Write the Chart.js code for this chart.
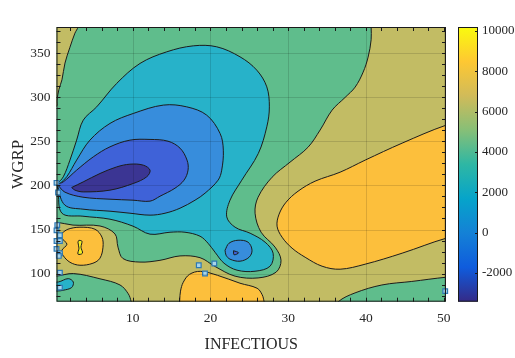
<!DOCTYPE html>
<html>
<head>
<meta charset="utf-8">
<script src="https://cdn.jsdelivr.net/npm/chart.js"></script>
<style>
  html, body { margin: 0; padding: 0; background: #fff; }
  #wrap { width: 515px; height: 358px; }
</style>
</head>
<body>
<div id="wrap"><canvas id="contour"></canvas></div>
<script>
// axis ranges and tick labels
const X_MIN = 0.2, X_MAX = 50.3, Y_MIN = 68, Y_MAX = 380;
const CB_MIN = -3420, CB_MAX = 10200;
const xTicks = [10, 20, 30, 40, 50];
const yTicks = [100, 150, 200, 250, 300, 350];
const cbTicks = [-2000, 0, 2000, 4000, 6000, 8000, 10000];

// contour regions, [INFECTIOUS, WGRP] along each level line
const kCorner = [[-1,392],[3.0,392],[2.96,380],[2.57,373],[1.93,357],[1.29,339],[0.9,320],[0.51,309],[0.26,297],[0.2,290],[-1,288]];
const kMain = [[40.67,392],[51.5,392],[51.5,96],[50.3,95.8],[45.9,91],[42.05,87],[38.6,78],[36.45,68],[36.3,60],[9.9,60],[9.8,68],[9.43,77],[8.37,87],[5.79,94],[2.36,100],[0.2,97],[-1,97],[-1,158],[0.2,158.3],[2.32,155],[5.79,154],[7.72,145],[8.11,130],[8.75,117],[10.94,113],[13.51,115],[16.09,120],[18.66,118],[20.59,108],[23.17,97],[26.13,95],[28.44,101.5],[29.08,115],[28.31,130],[26.51,147],[25.74,168.5],[26.13,186.7],[27.93,209.4],[30.24,226.5],[32.56,243.5],[34.11,263],[35.65,285.6],[37.32,300],[38.61,311.7],[39.64,328.7],[40.28,345.8],[40.67,365.5],[40.67,380]];
const oRight = [[51.5,268.7],[50.32,268.5],[44.66,248.1],[39.9,228.8],[36.68,215.1],[33.46,204.9],[31.27,193.5],[29.73,181],[28.83,167.4],[28.57,153.8],[29.21,141.3],[30.5,128.8],[32.18,118.5],[34.36,108.3],[36.68,104.9],[39.9,110.6],[44.66,123.1],[50.32,140.1],[51.5,140.3]];
const oBottom = [[16.0,60],[16.05,70],[16.15,80],[16.5,90],[17.3,99],[18.7,102.5],[20.9,98],[23.8,89],[26,83.3],[26.65,76],[26.9,68],[27,60]];
const oLeft = [[0.9,145.8],[1.67,150.3],[3.22,152.6],[5.15,150.3],[6.05,141.3],[6.18,129.9],[5.79,117.4],[4.89,111.7],[3.22,109.4],[1.93,112.8],[1.03,120.8],[0.9,126.5],[1.54,133.3],[0.9,140.1]];
const yPeak = [[3.09,137.8],[3.47,136.7],[3.35,129.9],[3.54,123.1],[2.96,122],[3.09,128.8],[2.96,135.6]];
const tMain = [[0.26,201.5],[1.07,209.8],[1.93,228.8],[2.79,251.5],[3.64,274.2],[5.37,289.3],[7.94,315.9],[10.94,338.6],[14.38,351.8],[17.8,358.6],[20.81,357.5],[23.81,346.1],[25.96,331],[27.25,312],[27.58,289.3],[27.25,266.6],[26.16,236.4],[24.03,206],[22.52,183.3],[22.1,164.3],[23.17,152.6],[25.1,145.8],[27.03,135.6],[28.06,123.1],[27.67,108.3],[25.74,102.6],[23.42,103.8],[21.75,111.7],[20.59,124.2],[19.69,134.4],[18.66,142.4],[16.73,146.9],[14.8,146.9],[12.23,144.7],[10.04,153.8],[7.08,161.7],[3.6,165.1],[0.9,168.5],[0.39,194.7]];
const tSmall = [[-1,90.5],[0.43,90.4],[1.71,94.2],[2.36,90.4],[2.15,84.1],[1.07,81],[0.43,80.2],[-1,80]];
const bMain = [[0.64,202.2],[1.51,209.8],[2.79,228.8],[4.5,251.5],[7.08,270.5],[10.08,281.8],[13.94,291.3],[16.95,289.3],[19.52,279.9],[21.24,259.1],[21.66,240.1],[21.45,217.4],[20.98,206],[19.31,191.3],[18.02,183.3],[16.09,174.2],[14.16,168.5],[12.23,166.3],[9.65,168.5],[7.08,170.8],[3.6,173.1],[1.29,177.6],[0.39,198.1]];
const dMain = [[0.26,201.5],[1.07,204.1],[2.79,217.4],[4.93,232.5],[7.08,243.9],[9.65,251.5],[12.23,252.3],[14.54,250.3],[16.09,242.4],[16.99,228.8],[17.12,217.4],[16.6,206],[15.44,196.9],[13.51,187.8],[12.23,182.2],[10.04,183.3],[7.08,184.4],[3.6,186.7],[1.29,192.4],[0.39,200.3]];
const nMain = [[2.15,197.7],[3.64,204.1],[5.79,213.6],[7.94,221.1],[9.65,224.2],[11.36,223.1],[12.23,217.4],[11.8,209.8],[10.08,202.3],[7.08,194.7],[3.64,192.7],[2.57,194.7]];
const bBlob = [[21.88,126.5],[22.39,134.4],[23.55,137.8],[24.84,135.6],[25.35,126.5],[24.97,118.5],[23.81,114],[22.52,116.3],[22.01,120.8]];
const dBlob = [[22.97,125.9],[23.62,123.6],[23.04,121.3]];

// sample points shown as squares
const sampleX = [0.2, 0.4, 0.3, 0.2, 0.64, 0.2, 0.64, 0.2, 0.64, 0.5, 0.64, 0.64, 18.5, 19.3, 20.5, 50.2];
const sampleY = [203, 192, 155, 149, 143.5, 137, 137, 128, 123, 120, 101, 84, 109.4, 100, 111.4, 80];

// fill colours of the bands (parula, washed)
const baseColor = '#5fbd8c';
const layers = [
    [kCorner, '#c2bc64'],
    [kMain, '#c2bc64'],
    [oRight, '#fcbf3c'],
    [oBottom, '#fcbf3c'],
    [oLeft, '#fcbf3c'],
    [yPeak, '#f5f020'],
    [tMain, '#27b2c9'],
    [tSmall, '#27b2c9'],
    [bMain, '#378ddc'],
    [dMain, '#3f62d8'],
    [nMain, '#3b3593'],
    [bBlob, '#378ddc'],
    [dBlob, '#3f62d8']
];
const parula = ['#352a87', '#0f5cdd', '#1481d6', '#06a4ca', '#2eb7a4', '#87bf77', '#d1bb59', '#fec832', '#f9fb0e'];

const datasets = layers.map((l, i) => {
    const pts = l[0].concat([l[0][0]]);
    return {
        type: 'line',
        data: pts.map(p => ({ x: p[0], y: p[1] })),
        backgroundColor: l[1],
        borderColor: '#1c1c1c',
        borderWidth: 1,
        fill: 'shape',
        tension: 0.35,
        pointRadius: 0,
        clip: 0,
        order: layers.length - i + 1
    };
});
datasets.push({
    type: 'scatter',
    data: sampleX.map((x, i) => ({ x: x, y: sampleY[i] })),
    pointStyle: 'rect',
    pointRadius: 3.3,
    backgroundColor: '#a8d5ea',
    borderColor: '#2d79b4',
    borderWidth: 1.2,
    clip: false,
    order: 0
});

const decor = {
    id: 'decor',
    beforeDatasetsDraw(chart) {
        const a = chart.chartArea, ctx = chart.ctx;
        ctx.save();
        ctx.fillStyle = baseColor;
        ctx.fillRect(a.left, a.top, a.right - a.left, a.bottom - a.top);
        ctx.restore();
    },
    afterDatasetsDraw(chart) {
        const a = chart.chartArea, ctx = chart.ctx;
        const xs = chart.scales.x, ys = chart.scales.y, cb = chart.scales.cb;
        ctx.save();
        // faint grid
        ctx.strokeStyle = 'rgba(0,0,0,0.13)';
        ctx.lineWidth = 1;
        xTicks.forEach(v => {
            const px = Math.round(xs.getPixelForValue(v)) + 0.5;
            ctx.beginPath(); ctx.moveTo(px, a.top); ctx.lineTo(px, a.bottom); ctx.stroke();
        });
        yTicks.forEach(v => {
            const py = Math.round(ys.getPixelForValue(v)) + 0.5;
            ctx.beginPath(); ctx.moveTo(a.left, py); ctx.lineTo(a.right, py); ctx.stroke();
        });
        // box and inward ticks
        ctx.strokeStyle = '#1a1a1a';
        ctx.strokeRect(a.left + 0.5, a.top + 0.5, a.right - a.left - 1, a.bottom - a.top - 1);
        for (let v = 2; v <= X_MAX; v += 2) {
            const px = Math.round(xs.getPixelForValue(v)) + 0.5;
            ctx.beginPath();
            ctx.moveTo(px, a.bottom); ctx.lineTo(px, a.bottom - 4);
            ctx.moveTo(px, a.top); ctx.lineTo(px, a.top + 4);
            ctx.stroke();
        }
        for (let v = 75; v <= Y_MAX; v += 12.5) {
            const py = Math.round(ys.getPixelForValue(v)) + 0.5;
            ctx.beginPath();
            ctx.moveTo(a.left, py); ctx.lineTo(a.left + 4, py);
            ctx.moveTo(a.right, py); ctx.lineTo(a.right - 4, py);
            ctx.stroke();
        }
        // colour bar
        const x0 = a.right + 12, w = 20;
        const top = cb.getPixelForValue(CB_MAX), bot = cb.getPixelForValue(CB_MIN);
        const g = ctx.createLinearGradient(0, bot, 0, top);
        parula.forEach((c, i) => g.addColorStop(i / (parula.length - 1), c));
        ctx.fillStyle = g;
        ctx.fillRect(x0, top, w, bot - top);
        ctx.strokeStyle = '#1a1a1a';
        ctx.strokeRect(x0 + 0.5, top + 0.5, w - 1, bot - top - 1);
        cbTicks.forEach(v => {
            const py = Math.round(cb.getPixelForValue(v)) + 0.5;
            ctx.beginPath(); ctx.moveTo(x0 + w, py); ctx.lineTo(x0 + w - 3, py); ctx.stroke();
        });
        ctx.restore();
    }
};

const tickFont = { family: 'Liberation Serif', size: 13.5 };
const ink = '#262626';

new Chart(document.getElementById('contour'), {
    data: { datasets: datasets },
    options: {
        responsive: true,
        maintainAspectRatio: false,
        animation: false,
        events: [],
        layout: { padding: { top: 27, left: 0, right: 0, bottom: 0 } },
        plugins: { legend: { display: false }, tooltip: { enabled: false } },
        scales: {
            x: {
                type: 'linear', min: X_MIN, max: X_MAX,
                afterBuildTicks: s => { s.ticks = xTicks.map(v => ({ value: v })); },
                afterFit: s => { s.height = 56.3; },
                ticks: { font: tickFont, color: ink, padding: 9 },
                grid: { display: false, drawTicks: false },
                border: { display: false },
                title: { display: true, text: 'INFECTIOUS', color: ink, font: { family: 'Liberation Serif', size: 16 }, padding: { top: 0, bottom: 4 } }
            },
            y: {
                type: 'linear', min: Y_MIN, max: Y_MAX,
                afterBuildTicks: s => { s.ticks = yTicks.map(v => ({ value: v })); },
                afterFit: s => { s.width = 56.5; },
                ticks: { font: tickFont, color: ink, padding: 6 },
                grid: { display: false, drawTicks: false },
                border: { display: false },
                title: { display: true, text: 'WGRP', color: ink, font: { family: 'Liberation Serif', size: 17 }, padding: { top: 8, bottom: 0 } }
            },
            cb: {
                type: 'linear', position: 'right', min: CB_MIN, max: CB_MAX,
                afterBuildTicks: s => { s.ticks = cbTicks.map(v => ({ value: v })); },
                afterFit: s => { s.width = 69; },
                ticks: { font: { family: 'Liberation Serif', size: 13 }, color: ink, padding: 3, callback: v => String(v) },
                grid: { display: true, drawOnChartArea: false, drawTicks: true, tickLength: 33, color: 'rgba(0,0,0,0)' },
                border: { display: false }
            }
        }
    },
    plugins: [decor]
});
</script>
</body>
</html>
